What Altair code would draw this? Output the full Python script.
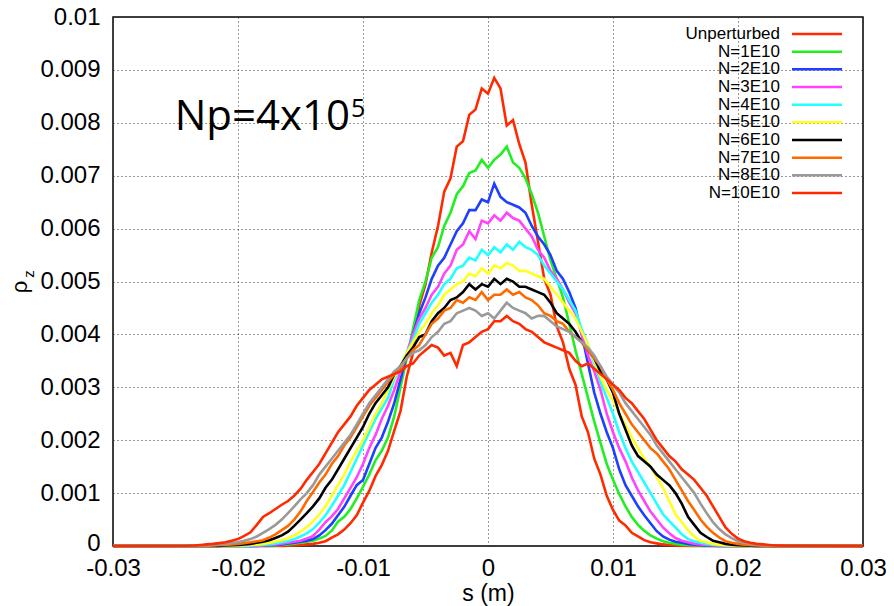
import altair as alt
import pandas as pd

# sample grid of s (m): -0.024 .. 0.024 in 0.0005 steps (97 points)
S = [round(-0.024 + 0.0005 * i, 4) for i in range(97)]

# rho_z values in units of 1e-4
U = [0,0,0,0,0,0,0,0,0,0,
     0,0,0,0,0,0,0.05,0.1,0.2,0.3,
     0.4,0.6,0.9,1.6,2.2,3.1,4.3,5.8,8.2,10.4,
     13.2,15.3,18.0,21.8,25.5,32.0,36.5,45.5,49.5,55.5,
     60.5,67.0,69.5,75.5,76.5,81.5,82.5,86.5,85.5,88.5,
     86.5,79.5,80.5,76.0,72.5,64.5,57.5,50.5,47.5,41.5,
     38.5,33.5,30.5,24.5,21.5,16.5,13.5,9.5,6.8,4.8,
     3.9,2.5,1.8,1.1,0.7,0.5,0.3,0.2,0.1,0.05,
     0,0,0,0,0,0,0,0,0,0,
     0,0,0,0,0,0,0]
N1 = [0,0,0,0,0,0,0,0,0,0,
      0,0,0,0,0.1,0.2,0.3,0.45,0.6,0.8,
      1.0,1.4,1.9,2.9,4.6,5.5,7.0,9.0,11.2,13.5,
      16.2,18.0,20.5,24.5,30.0,35.5,41.0,46.5,50.0,54.5,
      56.5,60.5,63.0,66.5,68.0,70.5,71.0,73.0,71.5,73.0,
      74.0,75.5,72.5,71.5,69.5,66.5,63.0,58.5,54.0,50.5,
      47.0,42.0,37.0,32.5,28.0,23.5,19.5,15.5,12.5,9.8,
      7.5,5.5,4.0,2.9,2.0,1.4,0.9,0.6,0.4,0.25,
      0.15,0.1,0.05,0,0,0,0,0,0,0,
      0,0,0,0,0,0,0]
N2 = [0,0,0,0,0,0,0,0,0,0,
      0,0,0.1,0.15,0.2,0.3,0.5,0.6,0.8,1.0,
      1.3,2.0,3.0,4.2,5.8,7.4,9.5,11.5,12.5,15.5,
      18.5,20.5,23.5,27.0,31.5,36.0,40.0,44.0,47.0,50.5,
      53.0,54.5,57.0,59.5,61.0,63.5,63.5,65.5,65.0,68.5,
      66.0,65.0,64.5,64.0,63.0,60.5,58.5,57.0,55.0,52.0,
      50.5,48.0,45.0,40.0,34.5,29.0,25.0,21.5,18.5,14.5,
      11.5,9.5,7.5,5.8,4.3,2.8,1.8,1.2,0.8,0.6,
      0.4,0.25,0.15,0.1,0.05,0,0,0,0,0,
      0,0,0,0,0,0,0]
N3 = [0,0,0,0,0,0,0,0,0,0,
      0,0,0.1,0.2,0.3,0.45,0.6,0.8,1.0,1.4,
      1.9,3.1,4.5,5.6,7.0,9.0,11.0,13.0,15.5,18.5,
      21.0,24.0,26.5,29.5,33.0,36.5,40.0,43.0,45.0,47.5,
      49.0,51.5,53.0,56.0,57.0,59.5,58.0,61.5,61.0,62.5,
      61.5,63.0,62.0,61.5,60.0,58.5,56.0,54.5,52.0,50.5,
      48.5,46.0,44.0,40.0,36.0,33.0,29.5,25.0,21.5,18.5,
      16.0,13.0,10.5,8.5,6.5,5.0,3.5,2.4,1.5,1.0,
      0.7,0.45,0.3,0.2,0.1,0.05,0,0,0,0,
      0,0,0,0,0,0,0]
N4 = [0,0,0,0,0,0,0,0,0,0,
      0.1,0.15,0.25,0.35,0.5,0.7,0.9,1.3,1.8,2.4,
      3.2,4.4,5.8,7.6,9.5,11.5,14.0,16.5,19.0,21.5,
      24.0,26.0,28.0,31.5,34.0,36.5,39.0,42.0,44.0,46.0,
      47.5,49.5,50.5,52.5,53.0,54.5,54.0,56.0,55.0,56.5,
      55.5,57.0,56.0,57.5,56.5,56.0,55.0,53.0,51.5,50.0,
      48.5,46.5,44.5,41.0,38.0,34.5,31.0,28.0,25.0,21.5,
      18.5,16.0,14.0,12.0,10.0,8.0,6.0,4.7,3.5,2.2,
      1.3,0.9,0.6,0.4,0.25,0.15,0.1,0.05,0,0,
      0,0,0,0,0,0,0]
N5 = [0,0,0,0,0,0,0,0,0.1,0.15,
      0.2,0.3,0.4,0.6,0.8,1.1,1.5,2.0,2.7,3.6,
      4.6,6.0,7.5,9.5,11.5,13.5,16.0,18.0,20.0,22.5,
      25.0,27.0,29.5,32.0,34.0,36.5,38.5,40.5,42.0,44.0,
      45.5,47.5,48.5,49.5,50.0,51.5,51.0,52.5,51.5,53.0,
      52.5,53.5,53.0,52.0,52.0,51.5,51.0,50.5,49.0,47.5,
      46.0,44.5,43.0,40.5,38.0,35.0,32.0,29.5,27.5,25.0,
      23.0,20.5,18.5,16.5,15.0,13.0,11.0,8.5,6.0,4.5,
      3.0,1.8,1.0,0.7,0.4,0.25,0.15,0.1,0.05,0,
      0,0,0,0,0,0,0]
N6 = [0,0,0,0,0,0,0.1,0.15,0.2,0.3,
      0.4,0.6,0.8,1.1,1.5,2.0,2.7,3.8,5.0,6.2,
      7.5,9.0,11.0,12.5,14.5,16.5,18.5,20.5,22.5,25.0,
      27.0,28.5,30.0,32.5,34.0,36.0,37.5,39.5,40.0,42.5,
      44.0,45.0,46.5,47.0,48.0,49.5,48.5,49.5,49.0,50.5,
      49.5,50.5,50.0,49.0,49.0,48.5,48.0,47.5,46.0,44.0,
      43.0,42.0,40.5,38.5,37.0,35.5,33.0,31.5,29.0,25.0,
      22.0,19.0,17.0,16.0,15.0,13.5,12.5,11.5,10.0,8.0,
      5.5,4.0,2.5,1.7,1.0,0.7,0.4,0.25,0.15,0.1,
      0.05,0,0,0,0,0,0]
N7 = [0,0,0,0,0.1,0.15,0.2,0.3,0.4,0.55,
      0.7,0.9,1.1,1.6,2.2,3.0,3.8,5.0,6.5,8.5,
      10.2,12.0,13.5,15.5,17.0,19.0,20.5,22.5,24.5,26.5,
      28.0,29.5,31.0,32.5,33.5,35.5,37.0,38.0,40.0,42.0,
      43.0,44.5,45.0,46.5,46.0,47.0,46.5,48.0,46.5,47.5,
      47.5,48.5,47.5,48.0,47.0,46.5,45.5,44.0,43.5,42.5,
      42.0,40.5,39.5,38.5,37.0,35.5,34.0,31.5,29.5,27.0,
      25.0,23.0,21.5,20.0,18.5,17.5,16.0,14.5,12.5,10.5,
      8.5,6.8,5.0,3.6,2.5,1.6,0.9,0.6,0.4,0.25,
      0.15,0.1,0.05,0,0,0,0]
N8 = [0,0,0.1,0.15,0.2,0.3,0.4,0.55,0.7,1.0,
      1.3,1.8,2.5,3.2,4.0,5.0,6.2,7.5,8.8,10.0,
      11.5,13.5,15.0,16.5,18.0,19.5,21.0,23.0,25.0,27.0,
      28.5,30.0,31.5,33.0,34.0,35.5,36.5,37.0,38.0,39.5,
      40.5,42.0,42.5,44.0,44.5,45.0,44.5,43.5,44.0,43.0,
      44.5,46.0,45.0,44.5,44.0,43.0,43.5,43.5,42.5,41.5,
      41.0,40.5,39.5,38.5,37.5,36.0,34.0,32.0,30.5,29.0,
      27.0,25.5,24.0,22.5,21.0,19.0,17.5,16.0,14.5,13.0,
      11.5,10.0,8.0,6.2,4.5,3.2,2.2,1.5,0.9,0.6,
      0.4,0.25,0.15,0.1,0.05,0,0]
N10 = [0.05,0.1,0.2,0.3,0.4,0.55,0.7,1.0,1.3,1.9,
       2.6,4.0,5.5,6.2,7.0,7.8,8.5,9.5,10.8,12.5,
       14.0,15.5,17.5,19.5,21.5,23.0,24.5,26.5,28.0,29.5,
       30.5,31.5,32.0,32.5,33.0,34.0,34.5,36.0,37.0,38.0,
       37.5,36.0,36.5,34.0,38.0,38.5,39.5,40.5,41.0,42.5,
       42.5,43.5,42.5,42.0,41.0,40.5,39.5,38.5,38.0,37.5,
       37.0,36.5,35.0,34.0,34.5,33.5,32.5,31.5,30.5,29.5,
       28.0,27.0,25.5,24.0,22.0,20.0,18.5,17.0,16.0,14.5,
       13.5,12.5,11.0,9.5,7.5,5.5,3.5,2.3,1.4,0.9,
       0.6,0.4,0.3,0.2,0.1,0.07,0.05]

NAMES = ["Unperturbed", "N=1E10", "N=2E10", "N=3E10", "N=4E10",
         "N=5E10", "N=6E10", "N=7E10", "N=8E10", "N=10E10"]
COLORS = ["#ff2a00", "#22ee22", "#1f3fff", "#ff44ff", "#22ffff",
          "#ffff22", "#000000", "#ff6a00", "#9a9a9a", "#ff2a00"]
SERIES = [U, N1, N2, N3, N4, N5, N6, N7, N8, N10]

X_TICKS = [-0.03, -0.02, -0.01, 0, 0.01, 0.02, 0.03]
Y_TICKS = [0, 0.001, 0.002, 0.003, 0.004, 0.005, 0.006, 0.007, 0.008, 0.009, 0.01]

for arr in SERIES:
    assert len(arr) == len(S), len(arr)

FONT = "Liberation Sans"

x_axis = alt.Axis(values=X_TICKS, labelExpr="'' + datum.value", title="s (m)",
                  labelFontSize=24, titleFontSize=23, labelFont=FONT, titleFont=FONT,
                  titleFontWeight="normal", labelColor="black", titleColor="black",
                  labelPadding=10, titlePadding=2, ticks=False, domain=False,
                  grid=True, gridDash=[1, 3], gridColor="#333333", gridWidth=1,
                  labelFlush=False)
y_axis = alt.Axis(values=Y_TICKS, labelExpr="'' + datum.value", title=None,
                  labelFontSize=24, labelFont=FONT, labelColor="black",
                  labelPadding=13, ticks=False, domain=False,
                  labelOffset={"condition": {"test": "datum.value === 0", "value": -3}, "value": 0},
                  grid=True, gridDash=[1, 3], gridColor="#333333", gridWidth=1,
                  labelFlush=False)

x_scale = alt.Scale(domain=[-0.03, 0.03], nice=False, zero=False)
y_scale = alt.Scale(domain=[0, 0.01], nice=False)

line_layers = []
for name, vals, col in zip(NAMES, SERIES, COLORS):
    xs = [-0.03] + S + [0.03]
    ys = [0.0] + [v * 1e-4 for v in vals] + [0.0]
    df = pd.DataFrame({"s": xs, "rho": ys})
    line_layers.append(
        alt.Chart(df).mark_line(color=col, strokeWidth=2.6, strokeJoin="miter").encode(
            x=alt.X("s:Q", scale=x_scale, axis=x_axis),
            y=alt.Y("rho:Q", scale=y_scale, axis=y_axis),
        )
    )
lines = alt.layer(*line_layers)

leg_df = pd.DataFrame({"name": NAMES, "color": COLORS})
leg_y = alt.Y("name:N", scale=alt.Scale(type="point", domain=NAMES, range=[17, 176], padding=0),
              axis=None)
leg_text = alt.Chart(leg_df).mark_text(align="right", baseline="middle", fontSize=17,
                                       font=FONT, color="black").encode(
    x=alt.value(667), y=leg_y, text="name:N")
leg_line = alt.Chart(leg_df).mark_rule(strokeWidth=2.5).encode(
    x=alt.value(679), x2=alt.value(729), y=leg_y,
    color=alt.Color("color:N", scale=None, legend=None))
legend = alt.layer(leg_text, leg_line)

one = pd.DataFrame({"k": [0]})
np_text = alt.Chart(one).mark_text(align="right", baseline="alphabetic", font="Open Sans",
                                   fontSize=42, color="black").encode(
    x=alt.value(237), y=alt.value(113), text=alt.value("Np=4x10"))
np_sup = alt.Chart(one).mark_text(align="left", baseline="alphabetic", font="Open Sans",
                                  fontSize=25, color="black").encode(
    x=alt.value(238), y=alt.value(100), text=alt.value("5"))
rho_t = alt.Chart(one).mark_text(align="center", baseline="middle", font=FONT,
                                 fontSize=22, angle=270, color="black").encode(
    x=alt.value(-93), y=alt.value(270), text=alt.value("ρ"))
z_t = alt.Chart(one).mark_text(align="center", baseline="middle", font=FONT,
                               fontSize=15, angle=270, color="black").encode(
    x=alt.value(-84), y=alt.value(257), text=alt.value("z"))

chart = alt.layer(lines, legend, np_text, np_sup, rho_t, z_t).resolve_scale(
    y="independent", color="independent"
).resolve_axis(y="independent").properties(
    width=750, height=529,
    padding={"left": 113, "top": 17, "right": 31, "bottom": 60},
    autosize=alt.AutoSizeParams(type="none"),
    background="white",
).configure_view(stroke="black", strokeWidth=1.5)

chart.save("out.html", embed_options={"renderer": "svg", "actions": False})
